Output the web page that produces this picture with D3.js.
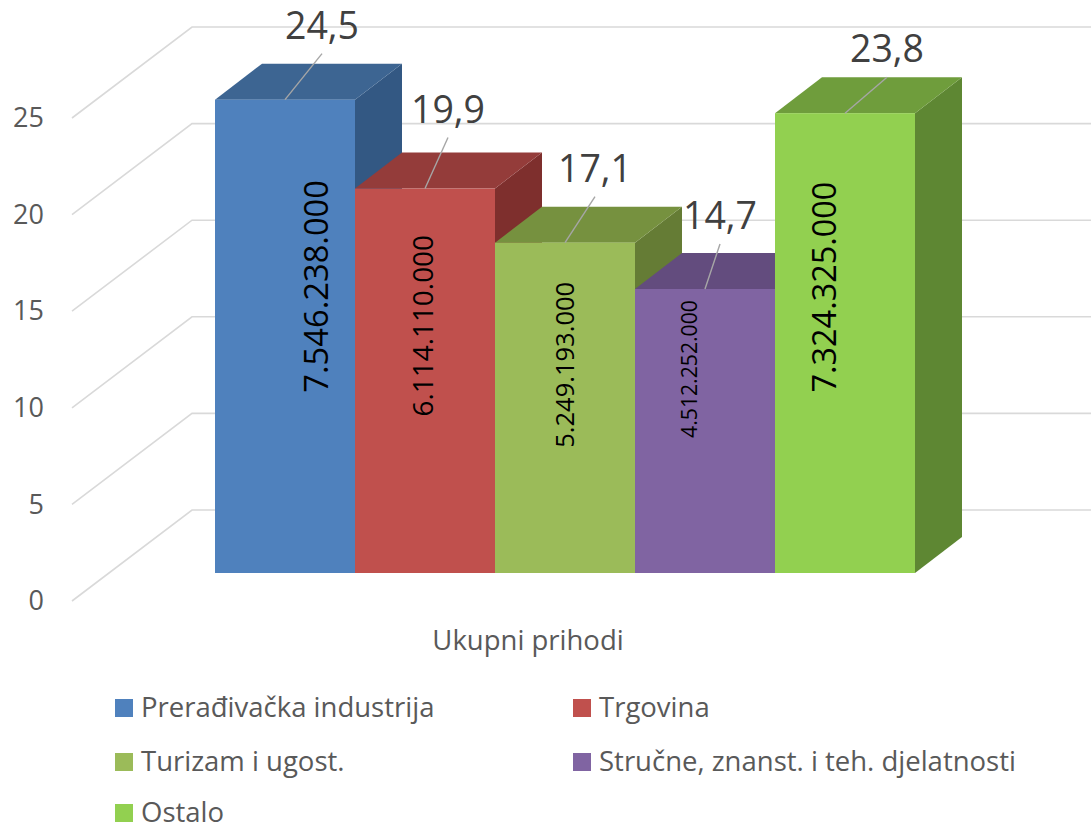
<!DOCTYPE html>
<html>
<head>
<meta charset="utf-8">
<script src="https://cdn.jsdelivr.net/npm/d3@7"></script>
<style>
  html, body { margin: 0; padding: 0; background: #fff; }
  svg { display: block; font-family: "Open Sans", "Noto Sans", sans-serif; }
</style>
</head>
<body>
<svg id="chart" width="1091" height="830"></svg>
<script>
// ---- data ----
const categories = ["Prerađivačka industrija", "Trgovina", "Turizam i ugost.", "Stručne, znanst. i teh. djelatnosti", "Ostalo"];
const shares = [24.5, 19.9, 17.1, 14.7, 23.8];
const amounts = [7546238000, 6114110000, 5249193000, 4512252000, 7324325000];
const yTicks = [0, 5, 10, 15, 20, 25];
const axisCategory = "Ukupni prihodi";

// ---- styles ----
const frontColors = ["#4F81BD", "#C0504D", "#9BBB59", "#8064A2", "#92D050"];
const topColors   = ["#3D6592", "#943C3A", "#76913F", "#634C7E", "#6F9D3C"];
const sideColors  = ["#335883", "#7E2F2D", "#657C35", "#54406B", "#5E8733"];
const innerFontSizes = [32.7, 27.9, 25.5, 21.2, 32.4];
const innerNudge = [[30, -50], [-3, -55], [-1, -43], [-17, -62], [-22, -56]];
const valueNudge = [[37, -61], [23, -66], [30, -61], [15, -60], [42, -51]];

const loc = d3.formatLocale({decimal: ",", thousands: ".", grouping: [3], currency: ["", ""]});
const fmtAmount = loc.format(",d");
const fmtShare = loc.format(".1f");

const svg = d3.select("#chart");

// ---- scales & projection ----
const x = d3.scaleBand().domain(categories).range([215, 915]).padding(0);
const y = d3.scaleLinear().domain([0, 25]).range([573, 90]);        // bar front plane
const yAxisFront = d3.scaleLinear().domain([0, 25]).range([601, 118]); // axis front plane
const depth = {dx: 47, dy: -36};           // bar depth
const wallFrontX = 72, wallBackX = 192, wallBackDY = -63; // relative to bar plane
const rightEdge = 1091;

// ---- gridlines ----
const grid = svg.append("g").attr("fill", "none").attr("stroke", "#D9D9D9").attr("stroke-width", 1.6);
yTicks.forEach(v => {
  grid.append("path").attr("d",
    `M${wallFrontX},${yAxisFront(v)}L${wallBackX},${y(v) + wallBackDY}L${rightEdge},${y(v) + wallBackDY}`);
});

// ---- y axis ----
const axisG = svg.append("g").attr("transform", "translate(56,0)")
  .call(d3.axisLeft(yAxisFront).tickValues(yTicks).tickSize(0).tickPadding(12).tickFormat(d => d));
axisG.select(".domain").remove();
axisG.selectAll("text").attr("fill", "#595959").style("font-size", "27px")
  .style("font-family", "'Open Sans', sans-serif");

// ---- bars ----
const bars = svg.append("g");
categories.forEach((c, i) => {
  const x0 = x(c), x1 = x0 + x.bandwidth();
  const yt = y(shares[i]), yb = y(0);
  const g = bars.append("g");
  g.append("path").attr("fill", sideColors[i]).attr("d",
    `M${x1},${yt}L${x1 + depth.dx},${yt + depth.dy}L${x1 + depth.dx},${yb + depth.dy}L${x1},${yb}Z`);
  g.append("path").attr("fill", topColors[i]).attr("d",
    `M${x0},${yt}L${x0 + depth.dx},${yt + depth.dy}L${x1 + depth.dx},${yt + depth.dy}L${x1},${yt}Z`);
  g.append("rect").attr("x", x0).attr("y", yt).attr("width", x.bandwidth()).attr("height", yb - yt)
    .attr("fill", frontColors[i]);
});

// ---- inner amount labels ----
categories.forEach((c, i) => {
  const cx = x(c) + x.bandwidth() / 2 + innerNudge[i][0];
  const cy = (y(shares[i]) + y(0)) / 2 + innerNudge[i][1];
  svg.append("text")
    .attr("transform", `translate(${cx},${cy}) rotate(-90)`)
    .attr("text-anchor", "middle").attr("dominant-baseline", "central")
    .attr("fill", "#000").style("font-size", innerFontSizes[i] + "px")
    .text(fmtAmount(amounts[i]));
});

// ---- value labels with leader lines ----
categories.forEach((c, i) => {
  const px = x(c) + x.bandwidth() / 2, py = y(shares[i]);
  const lx = px + valueNudge[i][0], ly = py + valueNudge[i][1];
  svg.append("line").attr("x1", px).attr("y1", py).attr("x2", lx).attr("y2", ly + 15)
    .attr("stroke", "#A6A6A6").attr("stroke-width", 1.4);
  svg.append("text").attr("x", lx).attr("y", ly).attr("text-anchor", "middle")
    .attr("fill", "#404040").style("font-size", "37.5px").text(fmtShare(shares[i]));
});

// ---- category axis label ----
svg.append("text").attr("x", 528).attr("y", 650).attr("text-anchor", "middle")
  .attr("fill", "#595959").style("font-size", "27.5px").text(axisCategory);

// ---- legend ----
const legend = svg.append("g");
const colX = [115, 573], rowY = [699, 753, 804];
categories.forEach((c, i) => {
  const gx = colX[i % 2], gy = rowY[Math.floor(i / 2)];
  legend.append("rect").attr("x", gx).attr("y", gy).attr("width", 18).attr("height", 18)
    .attr("fill", frontColors[i]);
  legend.append("text").attr("x", gx + 26).attr("y", gy + 18)
    .attr("fill", "#595959").style("font-size", "27.5px").text(c);
});
</script>
</body>
</html>
